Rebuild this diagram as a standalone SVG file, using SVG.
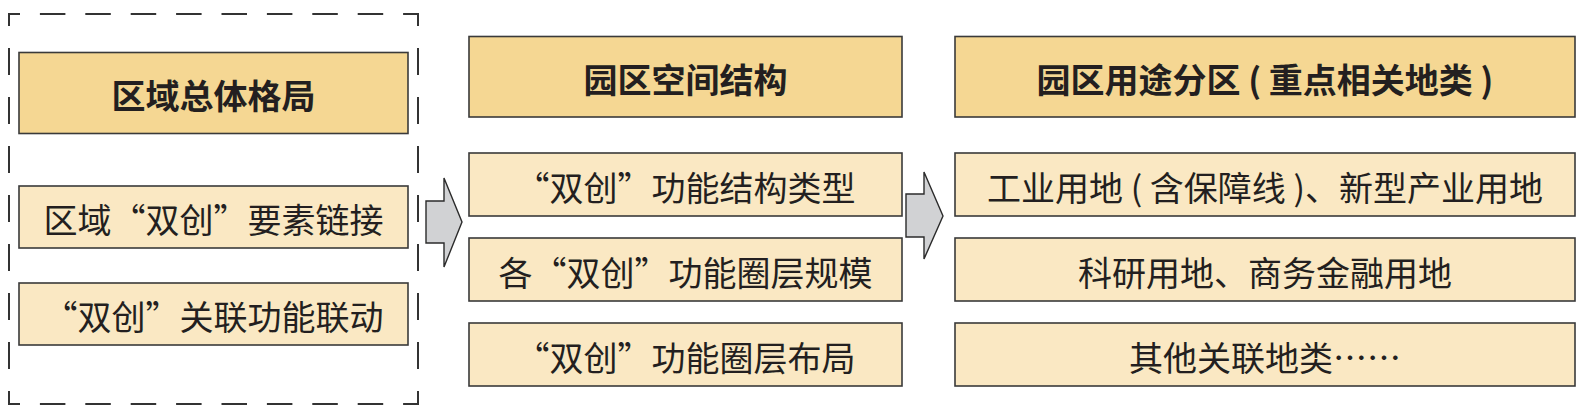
<svg xmlns="http://www.w3.org/2000/svg" width="1583" height="418" viewBox="0 0 1583 418">
<style>
.hd{fill:#f5d793;stroke:#3a3a3a;stroke-width:1.6}
.bx{fill:#fae8c3;stroke:#3a3a3a;stroke-width:1.6}
.t{font-family:"Noto Sans CJK SC","Noto Sans",sans-serif;font-size:34px;fill:#231f20;text-anchor:middle;dominant-baseline:central}
.tb{font-weight:bold}
.arr{fill:#d1d2d4;stroke:#2b2b2b;stroke-width:1.4;stroke-linejoin:miter}
.dh{fill:none;stroke:#333;stroke-width:2;stroke-dasharray:25.5 19.9;stroke-dashoffset:13.5}
.dv{fill:none;stroke:#333;stroke-width:2;stroke-dasharray:27 22;stroke-dashoffset:14}
</style>
<rect width="1583" height="418" fill="#ffffff"/>
<g id="region-frame">
<path class="dh" d="M8,14 H419"/>
<path class="dh" d="M8,404 H419"/>
<path class="dv" d="M9,13 V405"/>
<path class="dv" d="M418,13 V405"/>
</g>
<g id="left-header"><rect class="hd" x="19" y="52.5" width="389" height="81"/><text class="t tb" x="213.5" y="94">区域总体格局</text></g>
<g id="left-1"><rect class="bx" x="19" y="186" width="389" height="62"/><text class="t" x="213.5" y="218">区域“双创”要素链接</text></g>
<g id="left-2"><rect class="bx" x="19" y="283" width="389" height="62"/><text class="t" x="213.5" y="315">“双创”关联功能联动</text></g>

<g id="mid-header"><rect class="hd" x="469" y="36.5" width="433" height="80.5"/><text class="t tb" x="685.5" y="78">园区空间结构</text></g>
<g id="mid-1"><rect class="bx" x="469" y="153" width="433" height="63"/><text class="t" x="685.5" y="186">“双创”功能结构类型</text></g>
<g id="mid-2"><rect class="bx" x="469" y="238" width="433" height="63"/><text class="t" x="685.5" y="271">各“双创”功能圈层规模</text></g>
<g id="mid-3"><rect class="bx" x="469" y="323" width="433" height="63"/><text class="t" x="685.5" y="356">“双创”功能圈层布局</text></g>

<g id="right-header"><rect class="hd" x="955" y="36.5" width="620" height="80.5"/><text class="t tb" x="1265" y="78">园区用途分区 ( 重点相关地类 )</text></g>
<g id="right-1"><rect class="bx" x="955" y="153" width="620" height="63"/><text class="t" x="1265" y="186">工业用地 ( 含保障线 )、新型产业用地</text></g>
<g id="right-2"><rect class="bx" x="955" y="238" width="620" height="63"/><text class="t" x="1265" y="271">科研用地、商务金融用地</text></g>
<g id="right-3"><rect class="bx" x="955" y="323" width="620" height="63"/><text class="t" x="1265" y="356">其他关联地类……</text></g>

<g id="connectors">
<polygon class="arr" points="426,201 444,201 444,178 462,222 444,267 444,243 426,243"/>
<polygon class="arr" points="906,194 924,194 924,172 943,216 924,259 924,237 906,237"/>
</g>
</svg>
